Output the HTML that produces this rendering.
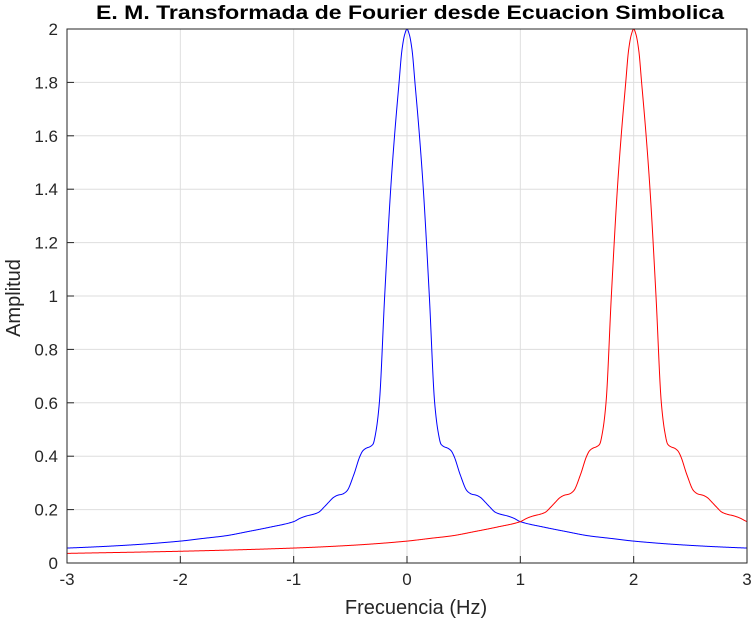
<!DOCTYPE html>
<html><head><meta charset="utf-8"><style>
body{margin:0;background:#fff;width:754px;height:630px;overflow:hidden}
svg{font-family:"Liberation Sans",Arial,sans-serif}
</style></head><body>
<svg id="chart" width="754" height="630">
<rect width="754" height="630" fill="#fff"/>
<g id="grid"></g>
<g id="series"></g>
<rect x="67" y="29" width="680" height="534" fill="none" stroke="#262626" stroke-width="1"/>
<g id="ticks"></g>
<text x="410" y="19" text-anchor="middle" font-size="19" font-weight="bold" fill="#000" textLength="628" lengthAdjust="spacingAndGlyphs">E. M. Transformada de Fourier desde Ecuacion Simbolica</text>
<text x="416" y="614" text-anchor="middle" font-size="20" fill="#262626">Frecuencia (Hz)</text>
<text transform="translate(20,298) rotate(-90)" text-anchor="middle" font-size="20" fill="#262626">Amplitud</text>
</svg>
<script>
const xTicks=[-3,-2,-1,0,1,2,3];
const yTicks=[0,0.2,0.4,0.6,0.8,1,1.2,1.4,1.6,1.8,2];
const shapeOffsets=[0,0.02,0.045,0.07,0.11,0.144,0.197,0.244,0.275,0.3,0.33,0.36,0.39,0.415,0.47,0.53,0.57,0.61,0.65,0.69,0.73,0.78,0.83,0.88,0.94,1.0,1.2,1.4,1.6,1.8,2.0,2.5,3.0,4.0,5.0];
const shapeAmps=[2.0,1.98,1.92,1.8,1.6,1.40,1.0,0.6,0.49,0.445,0.435,0.43,0.42,0.40,0.33,0.27,0.258,0.254,0.245,0.228,0.21,0.19,0.182,0.177,0.168,0.155,0.135,0.118,0.102,0.092,0.082,0.066,0.056,0.044,0.036];
const seriesCenters=[0,2];
const seriesColors=["#0000ff","#ff0000"];
const X0=67,X1=747,Y0=563,Y1=29;
const xs=v=>X0+(v+3)/6*(X1-X0);
const ys=v=>Y0-v/2*(Y0-Y1);
const NS="http://www.w3.org/2000/svg";
const grid=document.getElementById('grid'),ticks=document.getElementById('ticks'),ser=document.getElementById('series');
function mk(tag,attrs,parent){const e=document.createElementNS(NS,tag);for(const k in attrs)e.setAttribute(k,attrs[k]);parent.appendChild(e);return e;}
xTicks.forEach(t=>{
  const x=xs(t);
  const g=mk('line',{x1:x,x2:x,y1:Y1,y2:Y0,stroke:'#dedede','stroke-width':1},grid);
  
  
  const tk=mk('line',{x1:x,x2:x,y1:Y0,y2:Y0-7,stroke:'#262626'},ticks);
  
  
  const lb=mk('text',{x:x,y:Y0+22,'text-anchor':'middle','font-size':17,fill:'#262626'},ticks);
  lb.textContent=String(t);
  
  
});
yTicks.forEach(t=>{
  const y=ys(t);
  const g=mk('line',{x1:X0,x2:X1,y1:y,y2:y,stroke:'#dedede','stroke-width':1},grid);
  
  
  const tk=mk('line',{x1:X0,x2:X0+7,y1:y,y2:y,stroke:'#262626'},ticks);
  
  
  const lb=mk('text',{x:X0-9,y:y+6,'text-anchor':'end','font-size':17,fill:'#262626'},ticks);
  lb.textContent=String(t);
  
  
});
const n=shapeOffsets.length;
const slopes=[],tang=[];
for(let i=0;i<n-1;i++)slopes.push((shapeAmps[i+1]-shapeAmps[i])/(shapeOffsets[i+1]-shapeOffsets[i]));
tang[0]=0;
for(let i=1;i<n-1;i++){
  const a=slopes[i-1],b=slopes[i];
  tang[i]=(a*b<=0)?0:(3*(shapeOffsets[i+1]-shapeOffsets[i-1]))/((2*shapeOffsets[i+1]-shapeOffsets[i]-shapeOffsets[i-1])/a+(shapeOffsets[i+1]+shapeOffsets[i]-2*shapeOffsets[i-1])/b);
}
tang[n-1]=slopes[n-2];
function shape(d){
  const a=Math.abs(d);
  for(let i=0;i<n-1;i++){
    if(a<=shapeOffsets[i+1]){
      const h=shapeOffsets[i+1]-shapeOffsets[i],t=(a-shapeOffsets[i])/h;
      const h00=2*t*t*t-3*t*t+1,h10=t*t*t-2*t*t+t,h01=-2*t*t*t+3*t*t,h11=t*t*t-t*t;
      return h00*shapeAmps[i]+h10*h*tang[i]+h01*shapeAmps[i+1]+h11*h*tang[i+1];
    }
  }
  return shapeAmps[n-1];
}
seriesCenters.forEach((c,si)=>{
  let d='';
  for(let px=0;px<=680;px+=0.5){
    const f=-3+px/680*6;
    d+=(px?'L':'M')+xs(f).toFixed(2)+','+ys(shape(f-c)).toFixed(2);
  }
  const p=mk('path',{d:d,fill:'none',stroke:seriesColors[si],'stroke-width':1},ser);
  
  
});
</script>
</body></html>
